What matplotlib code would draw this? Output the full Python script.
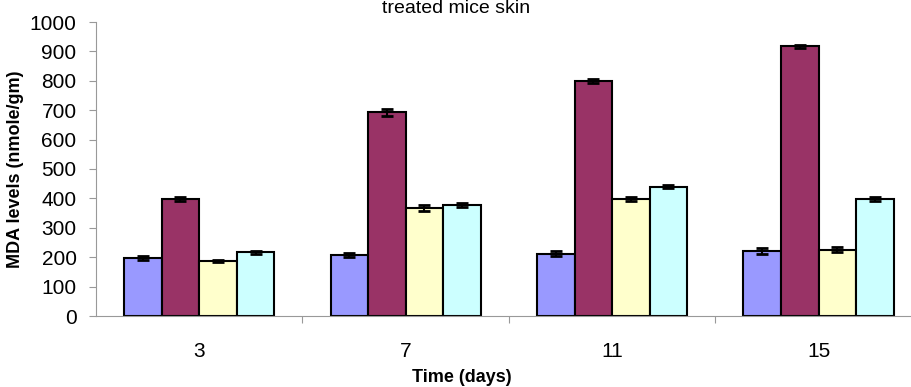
import numpy as np
import matplotlib.pyplot as plt

plt.rcParams['font.family'] = ['Liberation Sans', 'DejaVu Sans']

days = ['3', '7', '11', '15']
group_a = [197, 208, 212, 222]
group_b = [398, 693, 800, 917]
group_c = [187, 368, 398, 225]
group_d = [217, 378, 440, 398]
err_a = [6, 7, 8, 10]
err_b = [8, 12, 6, 6]
err_c = [5, 10, 8, 9]
err_d = [5, 7, 5, 6]

colors = ['#9999FF', '#993366', '#FFFFCC', '#CCFFFF']

fig = plt.figure(figsize=(9.11, 3.87), dpi=100)
ax = fig.add_axes([96 / 911, 71 / 387, 1 - 96 / 911, (316 - 22) / 387])

x = np.arange(len(days))
w = 0.182
series = [(group_a, err_a), (group_b, err_b), (group_c, err_c), (group_d, err_d)]
for i, (vals, errs) in enumerate(series):
    pos = x + (i - 1.5) * w
    ax.bar(pos, vals, width=w, color=colors[i], edgecolor='black', linewidth=1.5, zorder=2)
    ax.errorbar(pos, vals, yerr=errs, fmt='none', ecolor='black', elinewidth=1.5,
                capsize=4, capthick=2, zorder=3)

ax.set_xlim(-0.5, 3.448)
ax.set_ylim(0, 1000)
ax.set_yticks(range(0, 1001, 100))
ax.tick_params(axis='y', labelsize=15, length=5, color='#999999', width=0.8, pad=9)
ax.set_xticks(x)
ax.set_xticklabels(days)
ax.tick_params(axis='x', which='major', length=0, labelsize=15, pad=19)
ax.set_xticks([0.5, 1.5, 2.5], minor=True)
ax.tick_params(axis='x', which='minor', length=5, color='#999999', width=0.8)

for s in ['top', 'right']:
    ax.spines[s].set_visible(False)
for s in ['left', 'bottom']:
    ax.spines[s].set_color('#999999')
    ax.spines[s].set_linewidth(0.8)

ax.set_ylabel('MDA levels (nmole/gm)', fontsize=13, fontweight='bold', labelpad=4)
fig.text(462 / 911, 1 - 378 / 387, 'Time (days)', fontsize=13, fontweight='bold',
         ha='center', va='center')
fig.text(456 / 911, 1 - 13 / 387, 'treated mice skin', fontsize=14, ha='center', va='baseline')

fig.savefig('out.png', dpi=100)
